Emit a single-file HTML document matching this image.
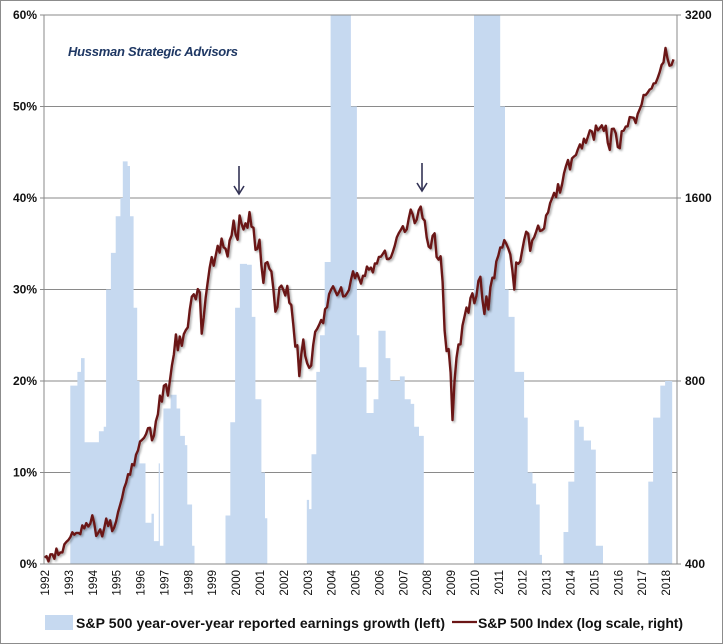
<!DOCTYPE html>
<html><head><meta charset="utf-8"><style>
body{margin:0;background:#fff;}
svg{display:block;font-family:"Liberation Sans",sans-serif;}
</style></head><body>
<svg id="chart" width="723" height="644" viewBox="0 0 723 644">
<defs>
<filter id="sh" x="-5%" y="-5%" width="110%" height="110%"><feDropShadow dx="1.5" dy="1.5" stdDeviation="1" flood-color="#000" flood-opacity="0.35"/></filter>
<clipPath id="pc"><rect x="44" y="15" width="633" height="549"/></clipPath>
</defs>
<rect x="0.5" y="0.5" width="722" height="643" fill="#fff" stroke="#8c8c8c"/>
<g id="grid"></g>
<g id="bars" clip-path="url(#pc)"></g>
<g id="line" clip-path="url(#pc)"></g>
<g id="axes"></g>
<text x="68" y="56" font-size="13" font-weight="bold" font-style="italic" fill="#1f3864" textLength="170">Hussman Strategic Advisors</text>
<g stroke="#333355" stroke-width="1.6" fill="none"><line x1="239" y1="166" x2="239" y2="194"/><polyline points="234,186 239,194 244,186"/></g>
<g stroke="#333355" stroke-width="1.6" fill="none"><line x1="422" y1="163" x2="422" y2="191"/><polyline points="417,183 422,191 427,183"/></g>
<g>
<rect x="45" y="615" width="28" height="15" fill="#c6d9f0"/>
<text x="76" y="628" font-size="14" font-weight="bold" fill="#111" textLength="369">S&amp;P 500 year-over-year reported earnings growth (left)</text>
<line x1="452" y1="622" x2="477" y2="622" stroke="#6b1616" stroke-width="2.2"/>
<text x="478" y="628" font-size="14" font-weight="bold" fill="#111" textLength="205">S&amp;P 500 Index (log scale, right)</text>
</g>
</svg>
<script>
const earnDates=[1993.1,1993.4,1993.55,1993.7,1994.3,1994.5,1994.6,1994.8,1995.0,1995.2,1995.3,1995.5,1995.6,1995.75,1995.9,1996.0,1996.25,1996.5,1996.6,1996.8,1996.85,1997.0,1997.3,1997.55,1997.7,1997.9,1998.0,1998.2,1998.3,
1999.6,1999.8,2000.0,2000.2,2000.5,2000.7,2000.85,2001.1,2001.25,2001.35,
2003.0,2003.1,2003.2,2003.4,2003.55,2003.75,2004.0,2004.85,2005.1,2005.2,2005.5,2005.8,2006.0,2006.3,2006.5,2006.9,2007.1,2007.35,2007.5,2007.7,2007.9,
2010.0,2011.1,2011.3,2011.45,2011.7,2012.1,2012.25,2012.45,2012.6,2012.75,2012.85,
2013.75,2013.95,2014.2,2014.4,2014.6,2014.9,2015.1,2015.4,
2017.3,2017.5,2017.8,2018.0,2018.3];
const earnValues=[19.5,21,22.5,13.3,14.5,15,30,34,38,40,44,43.5,38,28,20,11,4.5,5.5,2.5,11,2,17,18.5,17,14,13,6.5,2,0,
5.3,15.5,28,32.8,32.7,27,18,10,5,0,
7,6,12,21,25,33,65,50,25,21.5,16.5,18,25.5,22.5,20,20.5,18,17.5,15,14,0,
65,50,30,27,21,16,10,8.8,6.5,1,0,
3.5,9,15.7,15,13.5,12.5,2,0,
9,16,19.5,20,0];
const spxStartYear=1992;
const spxValues=[410,412,404,415,415,408,424,414,418,418,431,435,
438,443,451,447,450,450,448,463,458,467,461,466,
481,467,445,450,456,444,458,475,462,472,453,459,
470,487,500,514,533,544,562,561,584,581,605,615,
636,640,645,654,669,670,639,651,687,705,757,740,
786,790,757,801,848,885,954,899,947,914,955,970,
980,1049,1101,1111,1090,1133,1120,957,1017,1098,1163,1229,
1279,1238,1286,1335,1301,1372,1328,1320,1282,1362,1388,1469,
1394,1366,1498,1452,1420,1454,1430,1517,1436,1429,1315,1320,
1366,1240,1160,1249,1255,1224,1211,1133,1040,1059,1139,1148,
1130,1106,1147,1076,1067,990,911,916,815,885,936,880,
855,841,848,917,964,975,990,1008,996,1050,1058,1112,
1131,1145,1126,1107,1121,1141,1102,1104,1115,1130,1174,1212,
1181,1204,1181,1157,1192,1191,1234,1220,1229,1207,1249,1248,
1280,1281,1295,1311,1270,1270,1277,1304,1336,1378,1401,1418,
1438,1407,1421,1482,1531,1503,1455,1474,1527,1549,1481,1468,
1378,1331,1323,1386,1400,1280,1267,1283,1165,969,896,903,
826,690,798,873,919,919,987,1021,1057,1036,1096,1115,
1074,1104,1169,1187,1089,1031,1102,1049,1141,1183,1181,1258,
1286,1327,1326,1364,1345,1321,1292,1219,1131,1253,1247,1258,
1312,1366,1408,1398,1310,1362,1379,1407,1441,1412,1416,1426,
1498,1515,1569,1598,1631,1606,1686,1633,1682,1757,1806,1848,
1783,1859,1872,1884,1924,1960,1931,2003,1972,2018,2068,2059,
1995,2105,2068,2086,2107,2063,2104,1972,1920,2079,2080,2044,
1940,1932,2060,2065,2097,2099,2174,2171,2168,2126,2199,2239,
2279,2364,2363,2384,2412,2423,2470,2472,2519,2575,2648,2674,
2824,2714,2641,2648,2705];
const leftTicks=[0,10,20,30,40,50,60];
const rightTicks=[400,800,1600,3200];
const yearLabels=[1992,1993,1994,1995,1996,1997,1998,1999,2000,2001,2002,2003,2004,2005,2006,2007,2008,2009,2010,2011,2012,2013,2014,2015,2016,2017,2018];

const NS="http://www.w3.org/2000/svg";
const L=44,R=677,T=15,B=564,X0=1992,X1=2018.5;
const xs=d=>L+(d-X0)/(X1-X0)*(R-L);
const yl=v=>B-v/60*(B-T);
const yr=v=>B-Math.log2(v/400)/3*(B-T);
function mk(tag,attrs,parent){const e=document.createElementNS(NS,tag);for(const k in attrs)e.setAttribute(k,attrs[k]);parent.appendChild(e);return e;}
const grid=document.getElementById('grid'),axes=document.getElementById('axes');
leftTicks.forEach(t=>{
  const y=yl(t);
  if(t>0){const g=mk('line',{x1:L,x2:R,y1:y,y2:y,stroke:'#8a8a8a','stroke-width':1},grid);
  
  }
  const tk=mk('line',{x1:L-4,x2:L,y1:y,y2:y,stroke:'#8a8a8a'},axes);
  
  
  const tx=mk('text',{x:L-7,y:y+4,'font-size':12,'font-weight':'bold','text-anchor':'end',fill:'#111'},axes);
  tx.textContent=t+'%';
  
  
});
rightTicks.forEach(t=>{
  const y=yr(t);
  const tk=mk('line',{x1:R,x2:R+4,y1:y,y2:y,stroke:'#8a8a8a'},axes);
  
  
  const tx=mk('text',{x:R+8,y:y+4,'font-size':12,'font-weight':'bold',fill:'#111'},axes);
  tx.textContent=t;
  
  
});
const la=mk('line',{x1:L,x2:L,y1:T,y2:B,stroke:'#8a8a8a'},axes);


const ra=mk('line',{x1:R,x2:R,y1:T,y2:B,stroke:'#8a8a8a'},axes);


const ba=mk('line',{x1:L,x2:R,y1:B,y2:B,stroke:'#8a8a8a'},axes);


const tl=mk('line',{x1:L,x2:R,y1:T,y2:T,stroke:'#8a8a8a'},axes);


yearLabels.forEach(yv=>{
  const x=xs(yv)+1;
  const tx=mk('text',{x:0,y:0,'font-size':11.5,'text-anchor':'end',fill:'#111',transform:`translate(${x+4},${B+6}) rotate(-90)`},axes);
  tx.textContent=yv;
  
  
});
let d='',open=false;
for(let i=0;i<earnDates.length;i++){
  const x=xs(earnDates[i]),v=earnValues[i];
  const nx=i+1<earnDates.length?xs(earnDates[i+1]):x;
  if(v>0){
    if(!open){d+=`M${x.toFixed(1)},${B} `;open=true;}
    d+=`L${x.toFixed(1)},${yl(v).toFixed(1)} L${nx.toFixed(1)},${yl(v).toFixed(1)} `;
  } else if(open){d+=`L${x.toFixed(1)},${B} Z `;open=false;}
}
if(open)d+=`L${xs(earnDates[earnDates.length-1]).toFixed(1)},${B} Z`;
const bp=mk('path',{d:d,fill:'#c6d9f0'},document.getElementById('bars'));


const pts=spxValues.map((v,i)=>xs(spxStartYear+i/12+0.02).toFixed(1)+','+yr(v).toFixed(1)).join(' ');
const lp=mk('polyline',{points:pts,fill:'none',stroke:'#6b1616','stroke-width':2.4,'stroke-linejoin':'round',filter:'url(#sh)'},document.getElementById('line'));


</script>
</body></html>
